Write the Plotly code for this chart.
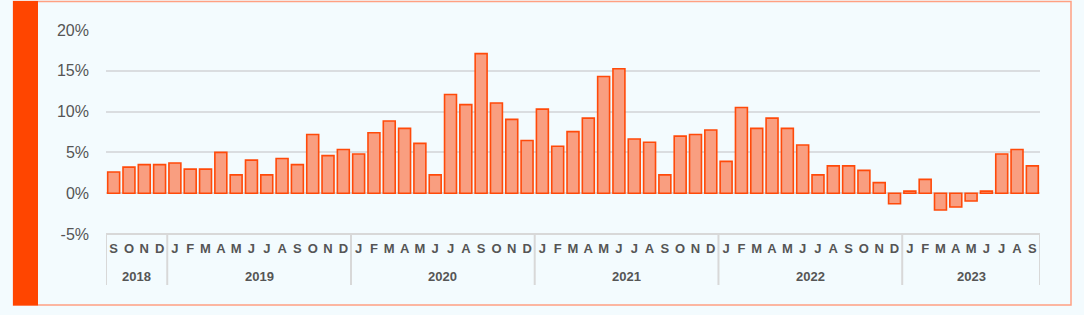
import plotly.graph_objects as go

# ---- data ----
years = ["2018"] * 4 + ["2019"] * 12 + ["2020"] * 12 + ["2021"] * 12 + ["2022"] * 12 + ["2023"] * 9
months = (["S", "O", "N", "D"]
          + ["J", "F", "M", "A", "M", "J", "J", "A", "S", "O", "N", "D"] * 4
          + ["J", "F", "M", "A", "M", "J", "J", "A", "S"])
values = [
    2.6, 3.2, 3.5, 3.5,                                             # 2018 S-D
    3.7, 2.95, 2.95, 5.0, 2.25, 4.05, 2.25, 4.25, 3.5, 7.2, 4.6, 5.35,  # 2019
    4.8, 7.4, 8.85, 7.95, 6.1, 2.25, 12.1, 10.85, 17.1, 11.05, 9.05, 6.45,  # 2020
    10.3, 5.75, 7.55, 9.2, 14.3, 15.25, 6.65, 6.25, 2.25, 7.0, 7.2, 7.75,  # 2021
    3.9, 10.5, 7.95, 9.2, 7.95, 5.9, 2.25, 3.35, 3.35, 2.8, 1.3, -1.3,  # 2022
    0.25, 1.7, -2.05, -1.7, -0.95, 0.25, 4.8, 5.35, 3.35,           # 2023 J-S
]
y_ticks = [-5, 0, 5, 10, 15, 20]

# ---- styling ----
BG = "#F3FBFE"
GRID = "#DADDE0"
TXT = "#555555"
FONT = "Liberation Sans, Arial, sans-serif"

W, H = 1084, 315
L, R, T, B = 106, 44, 30, 81
pw, ph = W - L - R, H - T - B

def px_x(p):  # pixel -> paper x
    return (p - L) / pw

def px_y(p):  # pixel -> paper y
    return (H - B - p) / ph

x = list(range(len(values)))

fig = go.Figure(go.Bar(
    x=x, y=values,
    marker=dict(color="#F99E80", line=dict(color="#FF4A0A", width=1.6)),
    hoverinfo="y",
))

shapes = []
annotations = []

# outer box + left stripe
shapes.append(dict(type="rect", xref="paper", yref="paper",
                   x0=px_x(13.5), x1=px_x(1071), y0=px_y(305), y1=px_y(1.5),
                   line=dict(color="#FFA082", width=1.5), fillcolor="rgba(0,0,0,0)", layer="below"))
shapes.append(dict(type="rect", xref="paper", yref="paper",
                   x0=px_x(13), x1=px_x(38), y0=px_y(305.5), y1=px_y(1),
                   line=dict(width=0), fillcolor="#FF4500", layer="above"))

# category axis frame
sep_bottom = px_y(285)
shapes.append(dict(type="line", xref="paper", yref="paper", x0=0, x1=1, y0=0, y1=0,
                   line=dict(color="#D8D8D8", width=2)))
boundaries = [0]
for i in range(1, len(years)):
    if years[i] != years[i - 1]:
        boundaries.append(i)
boundaries.append(len(years))
for bidx in boundaries:
    shapes.append(dict(type="line", xref="x", yref="paper", x0=bidx - 0.5, x1=bidx - 0.5,
                       y0=0, y1=sep_bottom, line=dict(color="#D8D8D8", width=2)))
for a, b in zip(boundaries[:-1], boundaries[1:]):
    annotations.append(dict(x=(a + b - 1) / 2, y=px_y(276), xref="x", yref="paper",
                            text="<b>%s</b>" % years[a], showarrow=False,
                            font=dict(family=FONT, size=13, color=TXT),
                            xanchor="center", yanchor="middle"))

fig.update_layout(
    width=W, height=H,
    margin=dict(l=L, r=R, t=T, b=B),
    paper_bgcolor=BG, plot_bgcolor=BG,
    bargap=0.22,
    showlegend=False,
    shapes=shapes,
    annotations=annotations,
    xaxis=dict(
        range=[-0.5, len(values) - 0.5],
        tickmode="array", tickvals=x,
        ticktext=["<b>%s</b>" % m for m in months],
        tickfont=dict(family=FONT, size=13, color=TXT),
        showgrid=False, zeroline=False, showline=False, ticks="",
        ticklabelstandoff=5,
    ),
    yaxis=dict(
        range=[-5, 20], tickvals=y_ticks,
        ticktext=["%d%%" % v for v in y_ticks],
        tickfont=dict(family=FONT, size=16, color=TXT),
        showgrid=True, gridcolor=GRID, gridwidth=1.5,
        zeroline=True, zerolinecolor=GRID, zerolinewidth=1.5,
        showline=False, ticks="", ticklabelstandoff=16,
    ),
)

fig.write_html("out.html")
